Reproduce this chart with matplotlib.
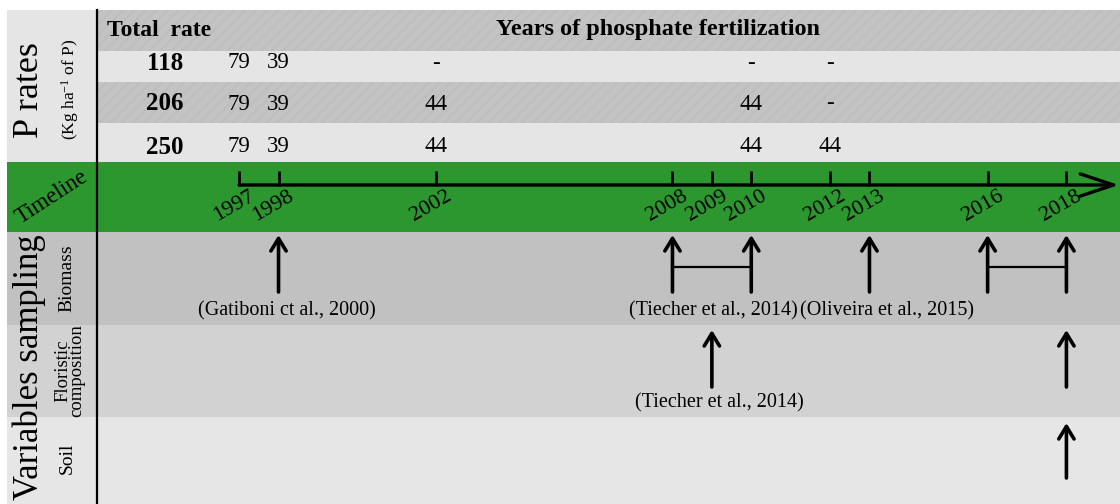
import matplotlib.pyplot as plt

plt.rcParams['font.family'] = ['Liberation Serif', 'DejaVu Serif']
plt.rcParams['mathtext.default'] = 'regular'

# P rates table (kg/ha of P per application year)
total_rates = [118, 206, 250]
application_years = [1997, 1998, 2002, 2010, 2012]
rates_118 = ['79', '39', '-', '-', '-']
rates_206 = ['79', '39', '44', '44', '-']
rates_250 = ['79', '39', '44', '44', '44']

# timeline
timeline_years = [1997, 1998, 2002, 2008, 2009, 2010, 2012, 2013, 2016, 2018]

# sampling of variables
biomass_years = [1998, 2008, 2010, 2013, 2016, 2018]
biomass_periods = [(2008, 2010), (2016, 2018)]
biomass_refs = ['(Gatiboni ct al., 2000)', '(Tiecher et al., 2014)', '(Oliveira et al., 2015)']
biomass_ref_years = [1998, 2009, 2013]
floristic_years = [2009, 2018]
floristic_refs = ['(Tiecher et al., 2014)']
floristic_ref_years = [2009]
soil_years = [2018]

# layout (y in pixel-like units from the top)
GRAY = '#c3c3c3'
LIGHT = '#e5e5e5'
GREEN = '#2c962f'
bands = [  # (top, bottom, color, left start)
    (10, 162, LIGHT, 7),
    (10, 51, GRAY, 97),
    (51, 82, LIGHT, 97),
    (82, 123, GRAY, 97),
    (123, 162, LIGHT, 97),
    (162, 232, GREEN, 7),
    (232, 325, '#c1c1c1', 7),
    (325, 417, '#d2d2d2', 7),
    (417, 504, '#e6e6e6', 7),
]
W = 1120.0

fig = plt.figure(figsize=(11.2, 5.04), dpi=100)
ax = fig.add_axes([0, 0, 1, 1])
ax.set_xlim(1990.93, 2019.36)
ax.set_ylim(504, 0)
ax.axis('off')
XF = ax.get_yaxis_transform()  # x in axes fraction, y in layout units

for top, bot, col, x0 in bands:
    ax.axhspan(bot, top, xmin=x0 / W, xmax=1, color=col, lw=0, zorder=0)
# subtle hatch on darker table rows
for top, bot in [(10, 51), (82, 123)]:
    ax.axhspan(bot, top, xmin=97 / W, xmax=1, facecolor='none',
               edgecolor='#bcbcbc', hatch='///', lw=0, zorder=0.5)

ax.plot([97 / W, 97 / W], [10, 504], color='k', lw=1.6, transform=XF, zorder=3)

# left labels
ax.text(29 / W, 90, 'P rates', rotation=90, fontsize=26, ha='center', va='center', transform=XF)
ax.text(70 / W, 89, '(Kg ha$^{-1}$ of P)', rotation=90, fontsize=12.5,
        ha='center', va='center', transform=XF)
ax.text(52 / W, 197, 'Timeline', rotation=33, fontsize=16.5, ha='center', va='center', transform=XF)
ax.text(29 / W, 367, 'Variables sampling', rotation=90, fontsize=25,
        ha='center', va='center', transform=XF, zorder=1)
ax.text(67 / W, 278, 'Biomass', rotation=90, fontsize=14, ha='center', va='center', transform=XF)
ax.text(70 / W, 371, 'Floristic\ncomposition', rotation=90, fontsize=13.5, linespacing=0.8,
        ha='center', va='center', transform=XF)
ax.text(67 / W, 458, 'Soil', rotation=90, fontsize=14, ha='center', va='center', transform=XF)

# table header and values
ax.text(107 / W, 30, 'Total  rate', fontsize=17, fontweight='bold', ha='left', va='center', transform=XF)
ax.text(658 / W, 30, 'Years of phosphate fertilization', fontsize=17.5, fontweight='bold',
        ha='center', va='center', transform=XF)
for total, vals, y in zip(total_rates, [rates_118, rates_206, rates_250], [63, 104, 147]):
    ax.text(165 / W, y, str(total), fontsize=18, fontweight='bold', ha='center', va='center', transform=XF)
    for yr, v in zip(application_years, vals):
        ax.text(yr, y, v, fontsize=16.5, ha='center', va='center')

# timeline axis
ax.annotate('', xy=(2019.33, 185), xytext=(min(timeline_years), 185),
            arrowprops=dict(arrowstyle='->,head_length=2.4,head_width=0.8', lw=2.4,
                            color='k', shrinkA=0, shrinkB=0, mutation_scale=10))
ax.vlines(timeline_years, 171, 186, color='k', lw=2)
for yr in timeline_years:
    ax.annotate(str(yr), xy=(yr, 206), xytext=(-5, 0), textcoords='offset pixels',
                rotation=30, fontsize=16, ha='center', va='center')


def up_arrow(yr, bottom, top):
    ax.annotate('', xy=(yr, top), xytext=(yr, bottom),
                arrowprops=dict(arrowstyle='->,head_length=0.9,head_width=0.55', lw=2.6,
                                color='k', shrinkA=0, shrinkB=0, mutation_scale=10))


for yr in biomass_years:
    up_arrow(yr, 292, 235)
for a, b in biomass_periods:
    ax.plot([a, b], [267, 267], color='k', lw=1.6)
for yr in floristic_years:
    up_arrow(yr, 387, 330)
for yr in soil_years:
    up_arrow(yr, 478, 423)

ref_shift = {'(Oliveira et al., 2015)': 18, '(Tiecher et al., 2014)': 2}
for txt, yr in zip(biomass_refs, biomass_ref_years):
    ax.annotate(txt, xy=(yr, 311), xytext=(ref_shift.get(txt, 8), 0), textcoords='offset pixels',
                fontsize=14.5, ha='center', va='center')
for txt, yr in zip(floristic_refs, floristic_ref_years):
    ax.annotate(txt, xy=(yr, 403), xytext=(8, 0), textcoords='offset pixels',
                fontsize=14.5, ha='center', va='center')

fig.savefig('out.png', dpi=100)
